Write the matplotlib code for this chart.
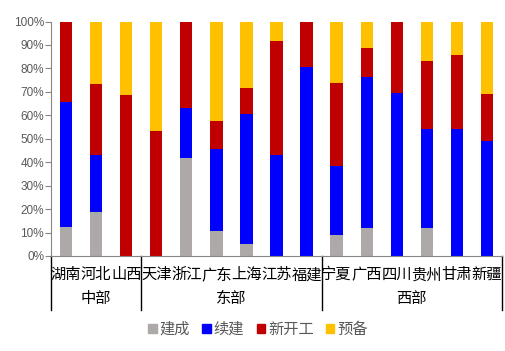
import matplotlib.pyplot as plt
import matplotlib.transforms as mtransforms
from matplotlib.patches import Patch
import numpy as np

plt.rcParams['font.family'] = ['Noto Sans CJK SC', 'DejaVu Sans']

provinces = ["湖南", "河北", "山西", "天津", "浙江", "广东", "上海", "江苏", "福建",
             "宁夏", "广西", "四川", "贵州", "甘肃", "新疆"]
groups = ["中部", "东部", "西部"]
group_sizes = [3, 6, 6]

built = [12.4, 18.8, 0, 0, 41.9, 10.5, 5.1, 0, 0, 9.1, 12.0, 0, 12.0, 0, 0]
continued = [53.1, 24.2, 0, 0, 21.2, 35.1, 55.4, 43.0, 80.5, 29.1, 64.5, 69.4, 42.1, 54.0, 49.0]
new_start = [34.5, 30.4, 68.5, 53.4, 36.9, 11.8, 11.2, 48.9, 19.5, 35.7, 12.3, 30.6, 28.9, 31.6, 20.2]
reserve = [0, 26.6, 31.5, 46.6, 0, 42.6, 28.3, 8.1, 0, 26.1, 11.2, 0, 17.0, 14.4, 30.8]

series = [("建成", built, "#ADA9A8"), ("续建", continued, "#0000FF"),
          ("新开工", new_start, "#C00000"), ("预备", reserve, "#FFC000")]

fig = plt.figure(figsize=(5.06, 3.51), dpi=100)
ax = fig.add_axes([0.1008, 0.2707, 0.8912, 0.668])

x = np.arange(len(provinces))
bottom = np.zeros(len(provinces))
for name, vals, col in series:
    vals = np.array(vals, dtype=float)
    ax.bar(x, vals, 0.41, bottom=bottom, color=col, label=name)
    bottom += vals

ax.set_xlim(-0.5, len(provinces) - 0.5)
ax.set_ylim(0, 100)
ax.set_yticks(np.arange(0, 101, 10))
ax.set_yticklabels([f"{v}%" for v in range(0, 101, 10)], fontsize=8.5,
                   color="#595959", family=["Liberation Sans", "DejaVu Sans"])
ax.tick_params(axis='y', length=4, color="#868686", pad=1)
ax.set_xticks([])
for s in ["top", "right"]:
    ax.spines[s].set_visible(False)
ax.spines["left"].set_color("#868686")
ax.spines["bottom"].set_color("#868686")

trans = mtransforms.blended_transform_factory(ax.transData, ax.transAxes)
for i, p in enumerate(provinces):
    ax.text(i, -0.08, p, transform=trans, ha="center", va="center", fontsize=11)

edges = np.concatenate([[0], np.cumsum(group_sizes)]) - 0.5
for e in edges:
    ax.plot([e, e], [0, -0.23], transform=trans, color="black", lw=1, clip_on=False)
for g, a, b in zip(groups, edges[:-1], edges[1:]):
    ax.text((a + b) / 2, -0.18, g, transform=trans, ha="center", va="center", fontsize=11)

handles = [Patch(color=c, label=n) for n, _, c in series]
fig.legend(handles=handles, loc="center", bbox_to_anchor=(0.51, 0.062), ncol=4,
           frameon=False, fontsize=11, handlelength=0.55, handleheight=0.55,
           handletextpad=0.2, columnspacing=0.8, labelcolor="#595959")

fig.savefig("out.png", dpi=100)
